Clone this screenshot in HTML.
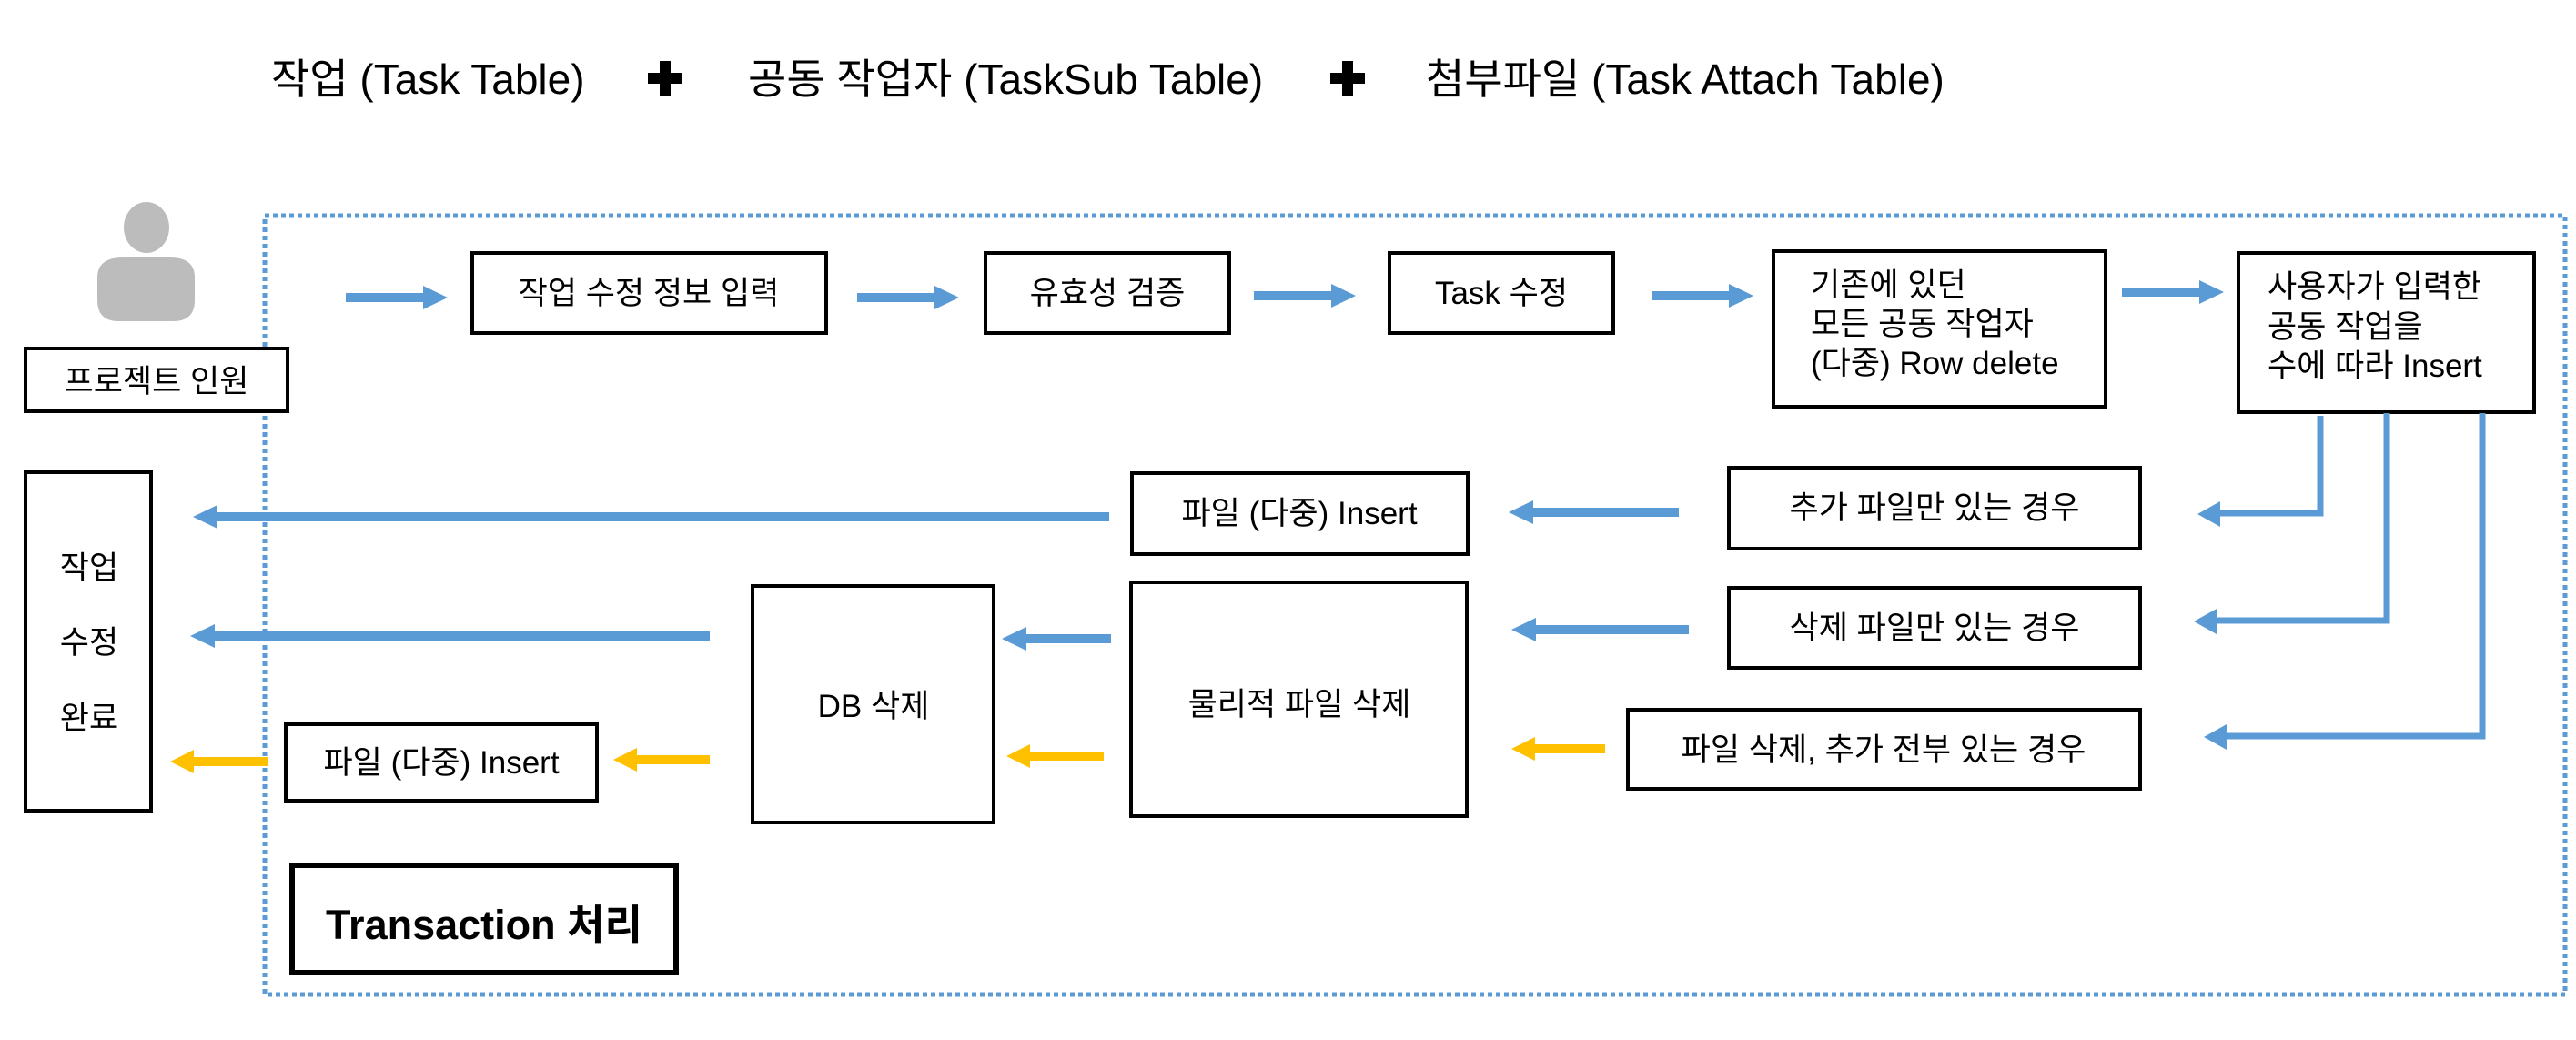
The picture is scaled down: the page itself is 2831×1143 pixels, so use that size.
<!DOCTYPE html>
<html><head><meta charset="utf-8"><style>
html,body{margin:0;padding:0;background:#fff;}
svg text{font-family:"Liberation Sans","Noto Sans CJK KR",sans-serif;fill:#000;}
</style></head><body>
<svg width="2831" height="1138" viewBox="0 0 2831 1138" xmlns="http://www.w3.org/2000/svg">
<!-- title -->
<g font-size="46">
<text x="298" y="103">작업 (Task Table)</text>
<text x="822" y="103">공동 작업자 (TaskSub Table)</text>
<text x="1567" y="103">첨부파일 (Task Attach Table)</text>
</g>
<g fill="#000">
<rect x="712" y="80" width="38" height="12"/><rect x="725" y="67" width="12" height="38"/>
<rect x="1462" y="80" width="38" height="12"/><rect x="1475" y="67" width="12" height="38"/>
</g>
<!-- dotted transaction border -->
<rect x="291" y="237" width="2528" height="856" fill="none" stroke="#5b9bd5" stroke-width="5" stroke-dasharray="5 4"/>
<!-- person -->
<ellipse cx="161" cy="250" rx="25" ry="28" fill="#bcbcbc"/>
<path d="M107 305 Q107 283 135 283 L187 283 Q214 283 214 305 L214 330 Q214 353 190 353 L130 353 Q107 353 107 330 Z" fill="#bcbcbc"/>
<!-- boxes -->
<g fill="#fff" stroke="#000" stroke-width="4">
<rect x="28" y="383" width="288" height="69"/>
<rect x="519" y="278" width="389" height="88"/>
<rect x="1083" y="278" width="268" height="88"/>
<rect x="1527" y="278" width="246" height="88"/>
<rect x="1949" y="276" width="365" height="171"/>
<rect x="2460" y="278" width="325" height="175"/>
<rect x="1244" y="520" width="369" height="89"/>
<rect x="1900" y="514" width="452" height="89"/>
<rect x="1900" y="646" width="452" height="88"/>
<rect x="1789" y="780" width="563" height="87"/>
<rect x="28" y="519" width="138" height="372"/>
<rect x="827" y="644" width="265" height="260"/>
<rect x="1243" y="640" width="369" height="257"/>
<rect x="314" y="796" width="342" height="84"/>
<rect x="321" y="951" width="422" height="118" stroke-width="6"/>
</g>
<!-- texts -->
<g font-size="35">
<text x="172" y="431" text-anchor="middle">프로젝트 인원</text>
<text x="713" y="334" text-anchor="middle">작업 수정 정보 입력</text>
<text x="1217" y="334" text-anchor="middle">유효성 검증</text>
<text x="1650" y="334" text-anchor="middle">Task 수정</text>
<text x="1990" y="325">기존에 있던</text>
<text x="1990" y="368">모든 공동 작업자</text>
<text x="1990" y="411">(다중) Row delete</text>
<text x="2492" y="327">사용자가 입력한</text>
<text x="2492" y="371">공동 작업을</text>
<text x="2492" y="414">수에 따라 Insert</text>
<text x="1428" y="576" text-anchor="middle">파일 (다중) Insert</text>
<text x="2126" y="570" text-anchor="middle">추가 파일만 있는 경우</text>
<text x="2126" y="702" text-anchor="middle">삭제 파일만 있는 경우</text>
<text x="2070" y="836" text-anchor="middle">파일 삭제, 추가 전부 있는 경우</text>
<text x="98" y="636" text-anchor="middle">작업</text>
<text x="98" y="718" text-anchor="middle">수정</text>
<text x="98" y="801" text-anchor="middle">완료</text>
<text x="960" y="788" text-anchor="middle">DB 삭제</text>
<text x="1428" y="786" text-anchor="middle">물리적 파일 삭제</text>
<text x="485" y="850" text-anchor="middle">파일 (다중) Insert</text>
</g>
<text x="532" y="1032" text-anchor="middle" font-size="45" font-weight="bold">Transaction 처리</text>
<!-- blue right arrows -->
<g fill="#5b9bd5" stroke="none">
<rect x="380" y="322" width="86" height="10"/><polygon points="465,314 492,327 465,340"/>
<rect x="942" y="322" width="86" height="10"/><polygon points="1027,314 1054,327 1027,340"/>
<rect x="1378" y="320" width="86" height="10"/><polygon points="1463,312 1490,325 1463,338"/>
<rect x="1815" y="320" width="86" height="10"/><polygon points="1900,312 1927,325 1900,338"/>
<rect x="2332" y="316" width="86" height="10"/><polygon points="2417,308 2444,321 2417,334"/>
<!-- left arrows -->
<rect x="238" y="563" width="981" height="10"/><polygon points="239,555 212,568 239,581"/>
<rect x="1684" y="558" width="161" height="10"/><polygon points="1685,550 1658,563 1685,576"/>
<rect x="235" y="694" width="545" height="10"/><polygon points="236,686 209,699 236,712"/>
<rect x="1127" y="697" width="94" height="10"/><polygon points="1128,689 1101,702 1128,715"/>
<rect x="1687" y="687" width="169" height="10"/><polygon points="1688,679 1661,692 1688,705"/>
<!-- elbows -->
<polyline points="2550,457 2550,564 2438,564" fill="none" stroke="#5b9bd5" stroke-width="7"/>
<polygon points="2440,551 2415,565 2440,579"/>
<polyline points="2623,454 2623,682 2434,682" fill="none" stroke="#5b9bd5" stroke-width="7"/>
<polygon points="2436,669 2411,683 2436,697"/>
<polyline points="2728,454 2728,809 2445,809" fill="none" stroke="#5b9bd5" stroke-width="7"/>
<polygon points="2447,796 2422,810 2447,824"/>
</g>
<!-- yellow arrows -->
<g fill="#ffc000">
<rect x="212" y="832" width="82" height="10"/><polygon points="213,824 187,837 213,850"/>
<rect x="699" y="830" width="81" height="10"/><polygon points="700,822 674,835 700,848"/>
<rect x="1131" y="826" width="82" height="10"/><polygon points="1132,818 1106,831 1132,844"/>
<rect x="1686" y="818" width="78" height="10"/><polygon points="1687,810 1661,823 1687,836"/>
</g>
</svg>
</body></html>
